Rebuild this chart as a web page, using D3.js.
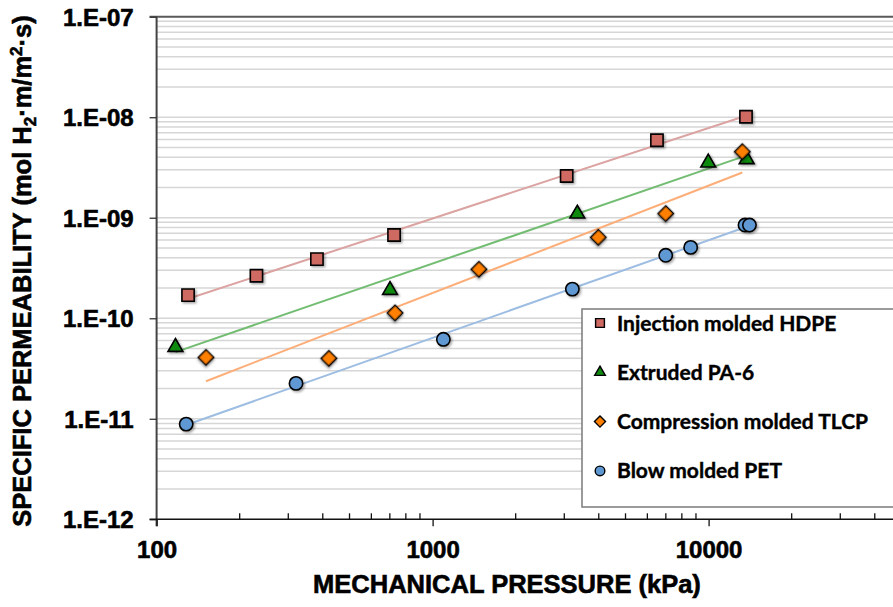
<!DOCTYPE html>
<html>
<head>
<meta charset="utf-8">
<script src="https://cdn.jsdelivr.net/npm/d3@7"></script>
<style>
  body { margin: 0; background: #fff; }
  svg { display: block; font-family: "Liberation Sans", Arial, sans-serif; }
</style>
</head>
<body>
<div id="chart"></div>
<script>
// ---- data ----
const seriesNames = ['Injection molded HDPE', 'Extruded PA-6', 'Compression molded TLCP', 'Blow molded PET'];

const hdpePressure = [130, 230, 381, 725, 3060, 6500, 13660];
const hdpePerm     = [1.70e-10, 2.65e-10, 3.88e-10, 6.73e-10, 2.60e-9, 5.90e-9, 1.01e-8];

const pa6Pressure = [117, 701, 3344, 9970, 13740];
const pa6Perm     = [5.29e-11, 1.95e-10, 1.12e-9, 3.61e-9, 3.90e-9];

const tlcpPressure = [151, 421, 731, 1472, 3985, 6993, 13250];
const tlcpPerm     = [4.08e-11, 3.99e-11, 1.13e-10, 3.07e-10, 6.38e-10, 1.10e-9, 4.54e-9];

const petPressure = [128, 320, 1094, 3209, 6993, 8610, 13550, 14060];
const petPerm     = [8.85e-12, 2.25e-11, 6.17e-11, 1.95e-10, 4.23e-10, 5.07e-10, 8.46e-10, 8.46e-10];

const xTicks = [100, 1000, 10000];
const xTickLabels = ['100', '1000', '10000'];
const yTicks = [1e-12, 1e-11, 1e-10, 1e-9, 1e-8, 1e-7];
const yTickLabels = ['1.E-12', '1.E-11', '1.E-10', '1.E-09', '1.E-08', '1.E-07'];

// ---- styles ----
const W = 893, H = 607;
const styles = [
  { shape: 'square',   fill: '#cf6a63', line: '#dba3a1' },
  { shape: 'triangle', fill: '#118a11', line: '#73bd73' },
  { shape: 'diamond',  fill: '#ff8000', line: '#fdae78' },
  { shape: 'circle',   fill: '#5e98d2', line: '#9dbde2' }
];
const series = [
  { x: hdpePressure, y: hdpePerm },
  { x: pa6Pressure,  y: pa6Perm },
  { x: tlcpPressure, y: tlcpPerm },
  { x: petPressure,  y: petPerm }
].map((s, i) => ({ ...s, name: seriesNames[i], ...styles[i] }));

const svg = d3.select('#chart').append('svg')
  .attr('width', W).attr('height', H)
  .attr('viewBox', `0 0 ${W} ${H}`);

// soft marker shadow like the original
const defs = svg.append('defs');
const f = defs.append('filter').attr('id', 'shadow')
  .attr('x', '-50%').attr('y', '-50%').attr('width', '200%').attr('height', '200%');
f.append('feDropShadow').attr('dx', 1.5).attr('dy', 1.5)
  .attr('stdDeviation', 1.3).attr('flood-color', '#000').attr('flood-opacity', 0.35);

// scales: decade ~276 px horizontally, axis runs past the right crop
const x = d3.scaleLog().domain([100, 100000]).range([156.6, 156.6 + 276 * 3]);
const y = d3.scaleLog().domain([1e-12, 1e-7]).range([519.3, 16.7]);

// horizontal gridlines (major + minor)
const gridVals = [];
for (let k = -12; k < -7; k++) {
  for (let m = 1; m <= 9; m++) gridVals.push(m * Math.pow(10, k));
}
svg.append('g').selectAll('line')
  .data(gridVals.filter(v => v > 1.5e-12))
  .enter().append('line')
  .attr('x1', x(100)).attr('x2', W)
  .attr('y1', d => y(d)).attr('y2', d => y(d))
  .attr('stroke', '#d6d6d6').attr('stroke-width', 1.5);

// top frame line
svg.append('line')
  .attr('x1', x(100) - 7).attr('x2', W)
  .attr('y1', y(1e-7)).attr('y2', y(1e-7))
  .attr('stroke', '#5a5a5a').attr('stroke-width', 2);

// heavier bold, the original uses a chunky Helvetica bold
const boldText = sel => sel
  .attr('font-family', '"Liberation Sans", Arial, sans-serif')
  .attr('font-weight', 'bold').attr('fill', '#000')
  .attr('stroke', '#000').attr('stroke-width', 0.6);

// y axis
const yAxisG = svg.append('g').attr('transform', `translate(${x(100)},0)`);
yAxisG.call(d3.axisLeft(y).tickValues(yTicks).tickSize(7).tickFormat((d, i) => yTickLabels[i]))
  .call(g => g.select('.domain').attr('stroke', '#444').attr('stroke-width', 2)
    .attr('d', `M0,${y(1e-7)}V${y(1e-12) + 7}`));
yAxisG.selectAll('.tick line').attr('stroke', '#333').attr('stroke-width', 1.3);
yAxisG.selectAll('.tick text')
  .attr('x', -23).attr('dy', '0.36em').attr('font-size', 24)
  .call(boldText);

// x axis
const xAxisG = svg.append('g').attr('transform', `translate(0,${y(1e-12)})`);
xAxisG.call(d3.axisBottom(x).tickValues(xTicks).tickSize(7).tickFormat((d, i) => xTickLabels[i]))
  .call(g => g.select('.domain').attr('stroke', '#111').attr('stroke-width', 1.6)
    .attr('d', `M${x(100) - 7},0H${W}`));
xAxisG.selectAll('.tick line').attr('stroke', '#111').attr('stroke-width', 1.3);
xAxisG.selectAll('.tick text')
  .attr('y', 22).attr('dy', '0.71em').attr('font-size', 24)
  .call(boldText);

// minor x ticks pointing up inside the plot
const minorX = [];
for (let k = 2; k < 5; k++) {
  for (let m = 2; m <= 9; m++) minorX.push(m * Math.pow(10, k));
}
xAxisG.append('g').selectAll('line').data(minorX).enter().append('line')
  .attr('x1', d => x(d)).attr('x2', d => x(d))
  .attr('y1', 0).attr('y2', -6)
  .attr('stroke', '#111').attr('stroke-width', 1.3);

// power-law trendlines (least squares in log-log space)
function powerFit(xs, ys) {
  const lx = xs.map(Math.log10), ly = ys.map(Math.log10);
  const mx = d3.mean(lx), my = d3.mean(ly);
  const b = d3.sum(lx, (v, i) => (v - mx) * (ly[i] - my)) / d3.sum(lx, v => (v - mx) * (v - mx));
  const a = my - b * mx;
  return v => Math.pow(10, a + b * Math.log10(v));
}
const trendG = svg.append('g');
series.forEach(s => {
  const fit = powerFit(s.x, s.y);
  const ext = d3.extent(s.x);
  const pts = [ext[0], ext[1]].map(v => [x(v), y(fit(v))]);
  trendG.append('path')
    .attr('d', d3.line()(pts))
    .attr('fill', 'none').attr('stroke', s.line).attr('stroke-width', 2);
});

// markers
function markerPath(shape, scale) {
  const k = scale || 1;
  if (shape === 'square') return d3.symbol().type(d3.symbolSquare).size(150 * k * k)();
  if (shape === 'triangle') return d3.symbol().type(d3.symbolTriangle).size(95 * k * k)();
  if (shape === 'diamond') return d3.symbol().type(d3.symbolSquare).size(118 * k * k)();
  return d3.symbol().type(d3.symbolCircle).size(140 * k * k)();
}
const markG = svg.append('g');
series.forEach(s => {
  markG.append('g').selectAll('path')
    .data(s.x.map((v, i) => [v, s.y[i]]))
    .enter().append('path')
    .attr('d', markerPath(s.shape))
    .attr('transform', d => `translate(${x(d[0])},${y(d[1])})` +
      (s.shape === 'diamond' ? ' rotate(45)' : '') +
      (s.shape === 'triangle' ? ' translate(0,1)' : ''))
    .attr('fill', s.fill).attr('stroke', '#000').attr('stroke-width', 1.6)
    .attr('filter', 'url(#shadow)');
});

// legend
const lg = svg.append('g').attr('transform', 'translate(582,309)');
lg.append('rect')
  .attr('x', 0).attr('y', 0).attr('width', 340).attr('height', 198)
  .attr('fill', '#fff').attr('stroke', '#7a7a7a').attr('stroke-width', 1.5);
series.forEach((s, i) => {
  const row = lg.append('g').attr('transform', `translate(18,${14 + i * 49.3})`);
  row.append('path')
    .attr('d', markerPath(s.shape, 0.72))
    .attr('transform', s.shape === 'diamond' ? 'rotate(45)' : null)
    .attr('fill', s.fill).attr('stroke', '#000').attr('stroke-width', 1.4);
  row.append('text')
    .attr('x', 17).attr('dy', '0.36em')
    .attr('font-family', 'Lato, "Open Sans", sans-serif')
    .attr('font-weight', 'bold').attr('font-size', 21).attr('fill', '#000')
    .attr('stroke', '#000').attr('stroke-width', 0.4)
    .text(s.name);
});

// axis titles
svg.append('text')
  .attr('x', 507).attr('y', 593)
  .attr('text-anchor', 'middle')
  .attr('font-size', 25.5)
  .call(boldText)
  .text('MECHANICAL PRESSURE (kPa)');

const yt = svg.append('text')
  .attr('transform', 'translate(31,271) rotate(-90)')
  .attr('text-anchor', 'middle')
  .attr('font-size', 25.5)
  .call(boldText);
yt.append('tspan').text('SPECIFIC PERMEABILITY (mol H');
yt.append('tspan').attr('font-size', 17).attr('dy', 5).text('2');
yt.append('tspan').attr('dy', -5).text('·m/m');
yt.append('tspan').attr('font-size', 17).attr('dy', -9).text('2');
yt.append('tspan').attr('dy', 9).text('·s)');
</script>
</body>
</html>
